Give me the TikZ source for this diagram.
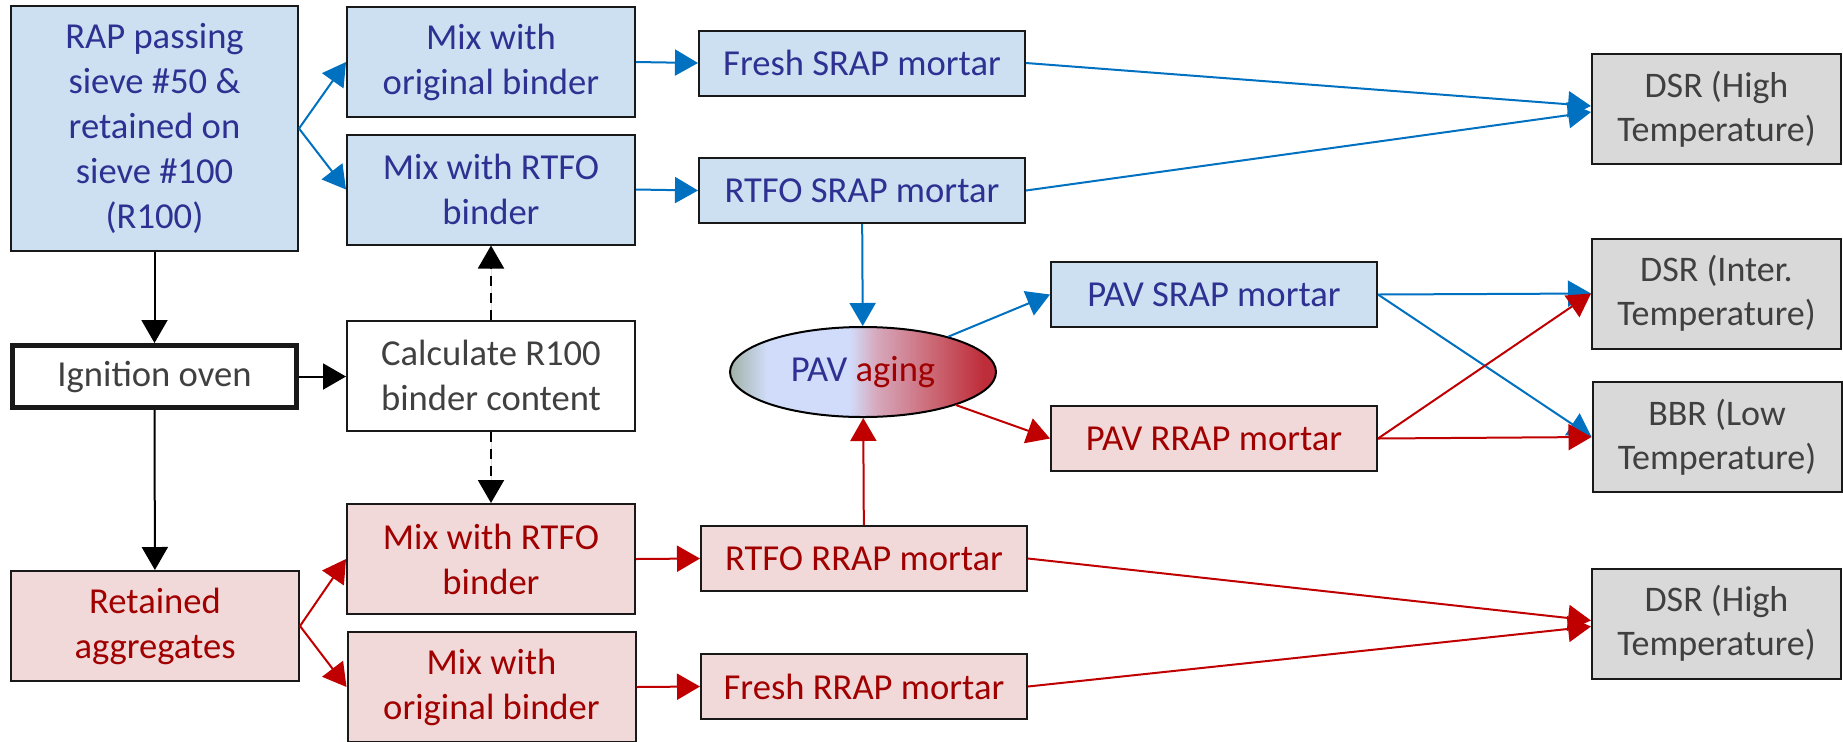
\documentclass[tikz,border=0pt]{standalone}
\usepackage{fontspec}
\setmainfont{Carlito}
\usetikzlibrary{arrows.meta,shapes.geometric}
\definecolor{bfill}{HTML}{CCE0F1}
\definecolor{rfill}{HTML}{F2D9D9}
\definecolor{gfill}{HTML}{D9D9D9}
\definecolor{btext}{HTML}{2E3192}
\definecolor{rtext}{HTML}{A00000}
\definecolor{gtext}{HTML}{404040}
\definecolor{bline}{HTML}{0070C0}
\definecolor{rline}{HTML}{C00000}
\definecolor{pA}{HTML}{A0B2A6}
\definecolor{pB}{HTML}{D1DCFA}
\definecolor{pC}{HTML}{D6A8BC}
\definecolor{pD}{HTML}{CC6B78}
\definecolor{pE}{HTML}{BE2E3A}
\pgfdeclarehorizontalshading{pavshade}{100bp}{color(0bp)=(pA); color(25bp)=(pA); color(32bp)=(pB); color(47.5bp)=(pB); color(52.5bp)=(pC); color(62.5bp)=(pD); color(72.5bp)=(pE); color(100bp)=(pE)}
\begin{document}
\begin{tikzpicture}[x=0.5pt,y=-0.5pt,
  box/.style={draw=black!90, line width=1pt, inner sep=0pt, align=center, font=\fontsize{18.3}{22.5}\selectfont},
  bbox/.style={box, fill=bfill, text=btext},
  rbox/.style={box, fill=rfill, text=rtext},
  gbox/.style={box, fill=gfill, text=gtext, font=\fontsize{18}{22}\selectfont, minimum width=124.5pt, minimum height=55pt},
  wbox/.style={box, fill=white, text=gtext},
  two/.style={minimum width=144pt, minimum height=55pt},
  one/.style={minimum width=163pt, minimum height=32.5pt},
  ar/.style={-{Triangle[length=11.5pt,width=13pt]}, line width=1pt},
  barr/.style={ar, draw=bline, fill=bline},
  rarr/.style={ar, draw=rline, fill=rline},
  karr/.style={ar, draw=black, fill=black},
  dsh/.style={dash pattern=on 5pt off 3.5pt}
]
\useasboundingbox (0,0) rectangle (1843,741);
% left column
\node[bbox, minimum width=143.5pt, minimum height=122.5pt] (rap) at (154.5,128.5) {RAP passing\\sieve \#50 \&\\retained on\\sieve \#100\\(R100)};
\node[wbox, line width=2.5pt, minimum width=142pt, minimum height=31pt] (ign) at (154.5,376.5) {Ignition oven};
\node[rbox, two] (ret) at (155,626) {Retained\\aggregates};
% second column
\node[bbox, two] (mix1) at (491,62) {Mix with\\original binder};
\node[bbox, two] (mix2) at (491,189.5) {Mix with RTFO\\binder};
\node[wbox, two] (calc) at (491,375.5) {Calculate R100\\binder content};
\node[rbox, two] (mix3) at (491,559) {Mix with RTFO\\binder};
\node[rbox, two] (mix4) at (491.5,687) {Mix with\\original binder};
% third column
\node[bbox, one] (fs) at (862,63) {Fresh SRAP mortar};
\node[bbox, one] (rs) at (862,190.5) {RTFO SRAP mortar};
\node[ellipse, draw=black, line width=1pt, shade, shading=pavshade, minimum width=133pt, minimum height=45pt, inner sep=0pt, font=\fontsize{18.3}{22.5}\selectfont] (pav) at (863,372) {\textcolor{btext}{PAV} \textcolor{rtext}{aging}};
\node[rbox, one] (rr) at (864,558.5) {RTFO RRAP mortar};
\node[rbox, one] (fr) at (864,686.5) {Fresh RRAP mortar};
% fourth column
\node[bbox, one] (ps) at (1214,294.5) {PAV SRAP mortar};
\node[rbox, one] (pr) at (1214,438.5) {PAV RRAP mortar};
% right column
\node[gbox] (dsr1) at (1716.5,109) {DSR (High\\Temperature)};
\node[gbox] (dsr2) at (1716.5,293.5) {DSR (Inter.\\Temperature)};
\node[gbox] (bbr) at (1717,437) {BBR (Low\\Temperature)};
\node[gbox] (dsr3) at (1716.5,623.5) {DSR (High\\Temperature)};
% black connectors
\draw[karr] (rap) -- (ign);
\draw[karr] (ign) -- (ret);
\draw[karr] (ign.east) -- (calc.west |- ign.east);
\draw[karr, dsh] (calc) -- (mix2);
\draw[karr, dsh] (calc) -- (mix3);
% blue connectors
\draw[barr] (rap.east) -- (mix1.west);
\draw[barr] (rap.east) -- (mix2.west);
\draw[barr] (mix1.east) -- (fs.west);
\draw[barr] (mix2.east) -- (rs.west);
\draw[barr] (fs.east) -- ([yshift=1.5pt]dsr1.west);
\draw[barr] (rs.east) -- ([yshift=-1.5pt]dsr1.west);
\draw[barr] (rs) -- (pav);
\draw[barr] (pav) -- (ps.west);
\draw[barr] (ps.east) -- (dsr2.west);
\draw[barr] (ps.east) -- (bbr.west);
% red connectors
\draw[rarr] (ret.east) -- (mix3.west);
\draw[rarr] (ret.east) -- (mix4.west);
\draw[rarr] (mix3.east) -- (rr.west);
\draw[rarr] (mix4.east) -- (fr.west);
\draw[rarr] (rr) -- (pav);
\draw[rarr] (pav) -- (pr.west);
\draw[rarr] (pr.east) -- (dsr2.west);
\draw[rarr] (pr.east) -- (bbr.west);
\draw[rarr] (rr.east) -- ([yshift=1.5pt]dsr3.west);
\draw[rarr] (fr.east) -- ([yshift=-1.5pt]dsr3.west);
\end{tikzpicture}
\end{document}
